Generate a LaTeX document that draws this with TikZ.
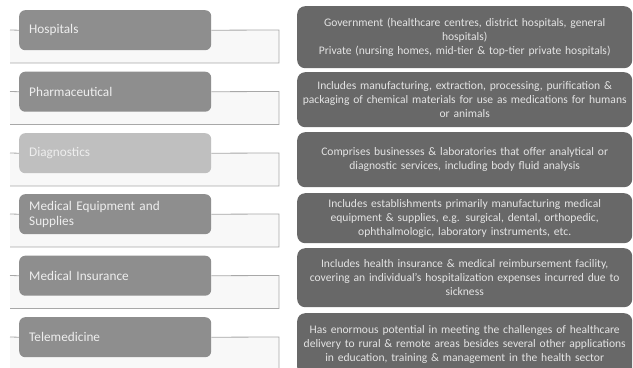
\documentclass[tikz,border=0pt]{standalone}
\usepackage{fontspec}
\setmainfont{Carlito}
\begin{document}
\begin{tikzpicture}[x=1bp,y=-1bp,
  leftbox/.style={draw=none,fill=lgray,rounded corners=6bp,minimum width=192bp,minimum height=40bp,
    text width=172bp,align=left,inner xsep=10bp,anchor=north west,text=ltext,font=\fontsize{13.3}{15}\selectfont},
  rightbox/.style={draw=none,fill=rgray,rounded corners=8bp,minimum width=335bp,inner xsep=1bp,
    text width=333bp,align=center,anchor=north west,text=rtext,font=\fontsize{11.6}{14}\selectfont},
  conn/.style={draw=cline,line width=0.8bp},
  band/.style={fill=bandfill,draw=none}]
\definecolor{lgray}{HTML}{8E8E8E}
\definecolor{dgray}{HTML}{BFBFBF}
\definecolor{rgray}{HTML}{686868}
\definecolor{ltext}{HTML}{EEEEEE}
\definecolor{rtext}{HTML}{E4E4E4}
\definecolor{cline}{HTML}{A8A8A8}
\definecolor{bandfill}{HTML}{F8F8F8}
\useasboundingbox (0,0) rectangle (633,367);
\fill[white] (0,0) rectangle (633,367);
\begin{scope}
\clip (0,0) rectangle (633,367);
% bands
\foreach \cy in {30,91.5,153,214,275.5,337}{
  \fill[band] (10,\cy) rectangle (279,\cy+33);
}
% left boxes
\node[leftbox] (h) at (19,10) {Hospitals};
\node[leftbox] (p) at (19,71.5) {Pharmaceutical};
\node[leftbox,fill=dgray] (d) at (19,133) {Diagnostics};
\node[leftbox] (m) at (19,194) {Medical Equipment and\\Supplies};
\node[leftbox] (i) at (19,255.5) {Medical Insurance};
\node[leftbox] (t) at (19,317) {Telemedicine};
% connectors
\foreach \n/\cy in {h/30,p/91.5,d/153,m/214,i/275.5,t/337}{
  \coordinate (\n s) at (10,\cy);
  \coordinate (\n a) at (279,\cy);
  \coordinate (\n b) at (279,\cy+33);
  \coordinate (\n c) at (10,\cy+33);
  \draw[conn] (\n s) -- (\n.west);
  \draw[conn] (\n.east) -- (\n a) -- (\n b) -- (\n c);
}
% right boxes
\node[rightbox,minimum height=62bp] (hr) at (297,6) {Government (healthcare centres, district hospitals, general\\hospitals)\\Private (nursing homes, mid-tier \& top-tier private hospitals)};
\node[rightbox,minimum height=55bp] (pr) at (297,72) {Includes manufacturing, extraction, processing, purification \&\\packaging of chemical materials for use as medications for humans\\or animals};
\node[rightbox,minimum height=55bp] (dr) at (297,132) {Comprises businesses \& laboratories that offer analytical or\\diagnostic services, including body fluid analysis};
\node[rightbox,minimum height=50bp] (mr) at (297,193) {Includes establishments primarily manufacturing medical\\equipment \& supplies, e.g. surgical, dental, orthopedic,\\ophthalmologic, laboratory instruments, etc.};
\node[rightbox,minimum height=59bp] (ir) at (297,248) {Includes health insurance \& medical reimbursement facility,\\covering an individual’s hospitalization expenses incurred due to\\sickness};
\node[rightbox,minimum height=62bp] (tr) at (297,313) {Has enormous potential in meeting the challenges of healthcare\\delivery to rural \& remote areas besides several other applications\\in education, training \& management in the health sector\\[6bp]};
\end{scope}
\end{tikzpicture}
\end{document}
